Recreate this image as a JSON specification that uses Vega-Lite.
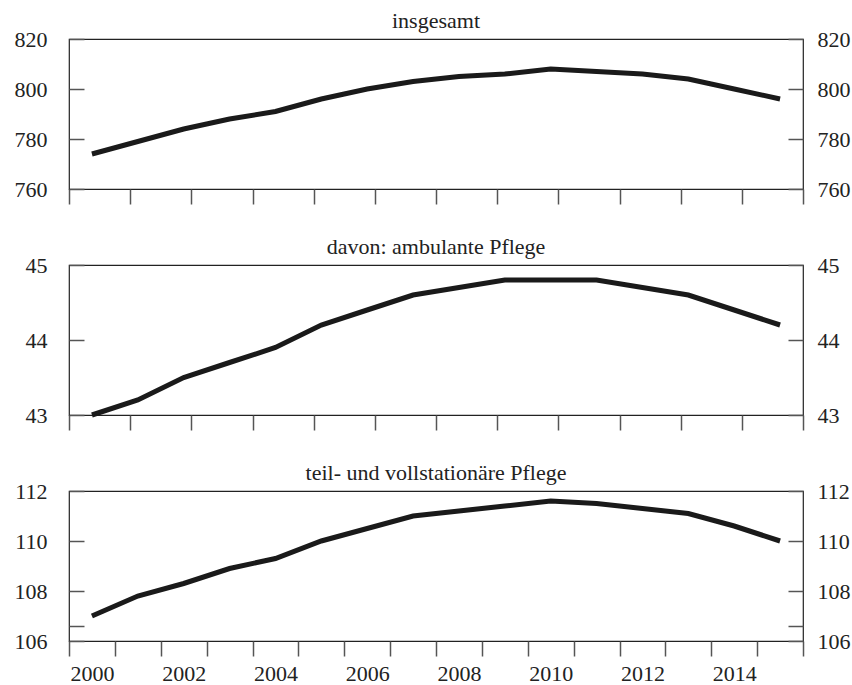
{
  "$schema": "https://vega.github.io/schema/vega-lite/v6.json",
  "background": "white",
  "padding": {"left": 13, "top": 9, "right": 5, "bottom": 5},
  "data": {"values": [
    {"year": 2000, "insgesamt": 774, "ambulant": 43.0, "stationaer": 107.0},
    {"year": 2001, "insgesamt": 779, "ambulant": 43.2, "stationaer": 107.8},
    {"year": 2002, "insgesamt": 784, "ambulant": 43.5, "stationaer": 108.3},
    {"year": 2003, "insgesamt": 788, "ambulant": 43.7, "stationaer": 108.9},
    {"year": 2004, "insgesamt": 791, "ambulant": 43.9, "stationaer": 109.3},
    {"year": 2005, "insgesamt": 796, "ambulant": 44.2, "stationaer": 110.0},
    {"year": 2006, "insgesamt": 800, "ambulant": 44.4, "stationaer": 110.5},
    {"year": 2007, "insgesamt": 803, "ambulant": 44.6, "stationaer": 111.0},
    {"year": 2008, "insgesamt": 805, "ambulant": 44.7, "stationaer": 111.2},
    {"year": 2009, "insgesamt": 806, "ambulant": 44.8, "stationaer": 111.4},
    {"year": 2010, "insgesamt": 808, "ambulant": 44.8, "stationaer": 111.6},
    {"year": 2011, "insgesamt": 807, "ambulant": 44.8, "stationaer": 111.5},
    {"year": 2012, "insgesamt": 806, "ambulant": 44.7, "stationaer": 111.3},
    {"year": 2013, "insgesamt": 804, "ambulant": 44.6, "stationaer": 111.1},
    {"year": 2014, "insgesamt": 800, "ambulant": 44.4, "stationaer": 110.6},
    {"year": 2015, "insgesamt": 796, "ambulant": 44.2, "stationaer": 110.0}
  ]},
  "bounds": "flush",
  "spacing": 76,
  "vconcat": [
    {
      "title": "insgesamt",
      "width": 734, "height": 150,
      "encoding": {
        "x": {"field": "year", "type": "quantitative",
          "scale": {"domain": [1999.5, 2015.5], "nice": false, "zero": false},
          "axis": {"values": [1999.5, 2000.8333, 2002.1667, 2003.5, 2004.8333, 2006.1667, 2007.5, 2008.8333, 2010.1667, 2011.5, 2012.8333, 2014.1667, 2015.5], "labels": false, "tickSize": 15, "tickCount": 30}}
      },
      "layer": [
        {"mark": {"type": "line", "strokeWidth": 5, "color": "#1a1a1a"},
         "encoding": {"y": {"field": "insgesamt", "type": "quantitative",
           "scale": {"domain": [760, 820], "nice": false, "zero": false},
           "axis": {"orient": "left", "values": [760, 780, 800, 820], "tickCount": 10, "labelExpr": "format(datum.value, 'd')", "tickSize": -15, "labelPadding": 37}}}},
        {"mark": {"type": "line", "strokeWidth": 5, "strokeOpacity": 0},
         "encoding": {"y": {"field": "insgesamt", "type": "quantitative",
           "axis": {"orient": "right", "values": [760, 780, 800, 820], "tickCount": 10, "labelExpr": "format(datum.value, 'd')", "tickSize": -15, "labelPadding": 29}}}}
      ],
      "resolve": {"axis": {"y": "independent"}}
    },
    {
      "title": "davon: ambulante Pflege",
      "width": 734, "height": 150,
      "encoding": {
        "x": {"field": "year", "type": "quantitative",
          "scale": {"domain": [1999.5, 2015.5], "nice": false, "zero": false},
          "axis": {"values": [1999.5, 2000.8333, 2002.1667, 2003.5, 2004.8333, 2006.1667, 2007.5, 2008.8333, 2010.1667, 2011.5, 2012.8333, 2014.1667, 2015.5], "labels": false, "tickSize": 15, "tickCount": 30}}
      },
      "layer": [
        {"mark": {"type": "line", "strokeWidth": 5, "color": "#1a1a1a"},
         "encoding": {"y": {"field": "ambulant", "type": "quantitative",
           "scale": {"domain": [43, 45], "nice": false, "zero": false},
           "axis": {"orient": "left", "values": [43, 44, 45], "tickCount": 10, "labelExpr": "format(datum.value, 'd')", "tickSize": -15, "labelPadding": 37}}}},
        {"mark": {"type": "line", "strokeWidth": 5, "strokeOpacity": 0},
         "encoding": {"y": {"field": "ambulant", "type": "quantitative",
           "axis": {"orient": "right", "values": [43, 44, 45], "tickCount": 10, "labelExpr": "format(datum.value, 'd')", "tickSize": -15, "labelPadding": 29}}}}
      ],
      "resolve": {"axis": {"y": "independent"}}
    },
    {
      "title": "teil- und vollstationäre Pflege",
      "width": 734, "height": 150,
      "encoding": {
        "x": {"field": "year", "type": "quantitative",
          "scale": {"domain": [1999.5, 2015.5], "nice": false, "zero": false},
          "axis": {"values": [1999.5, 2000.5, 2001.5, 2002.5, 2003.5, 2004.5, 2005.5, 2006.5, 2007.5, 2008.5, 2009.5, 2010.5, 2011.5, 2012.5, 2013.5, 2014.5, 2015.5],
            "tickCount": 30,
            "labelExpr": "(datum.value + 0.5) % 2 == 0 && datum.value < 2015 ? format(datum.value + 0.5, 'd') : ''",
            "labelOffset": 22.94, "labelAlign": "center", "tickSize": 15, "labelPadding": 7}}
      },
      "layer": [
        {"mark": {"type": "line", "strokeWidth": 5, "color": "#1a1a1a"},
         "encoding": {"y": {"field": "stationaer", "type": "quantitative",
           "scale": {"domain": [106, 112], "nice": false, "zero": false},
           "axis": {"orient": "left", "values": [106, 106.6, 108, 110, 112], "tickCount": 10, "labelExpr": "datum.value == 106.6 ? '' : format(datum.value, 'd')", "tickSize": -15, "labelPadding": 37}}}},
        {"mark": {"type": "line", "strokeWidth": 5, "strokeOpacity": 0},
         "encoding": {"y": {"field": "stationaer", "type": "quantitative",
           "axis": {"orient": "right", "values": [106, 106.6, 108, 110, 112], "tickCount": 10, "labelExpr": "datum.value == 106.6 ? '' : format(datum.value, 'd')", "tickSize": -15, "labelPadding": 29}}}}
      ],
      "resolve": {"axis": {"y": "independent"}}
    }
  ],
  "config": {
    "font": "Liberation Serif",
    "view": {"stroke": "#222", "strokeWidth": 1.2},
    "axis": {"labelFont": "Liberation Serif", "labelFontSize": 22, "labelColor": "#222", "grid": false, "domain": false,
      "tickColor": "#555", "tickWidth": 1.5, "labelFlush": false, "labelOverlap": false, "labelBound": false, "title": null},
    "title": {"font": "Liberation Serif", "fontSize": 22, "fontWeight": "normal", "color": "#222", "anchor": "middle", "baseline": "alphabetic", "offset": -5}
  }
}
